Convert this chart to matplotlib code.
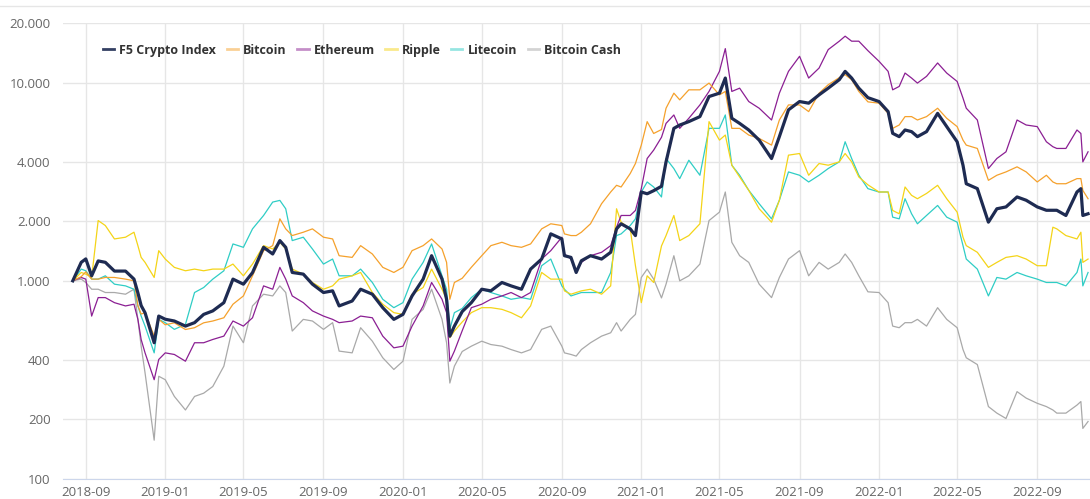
import pandas as pd
import matplotlib
matplotlib.use("Agg")
import matplotlib.pyplot as plt
import matplotlib.dates as mdates
from matplotlib.lines import Line2D

# dates of the read-off points (index = 1000 at start)
dates = pd.to_datetime([
    "2018-08-12", "2018-08-25", "2018-09-01", "2018-09-10", "2018-09-20", "2018-10-01", "2018-10-15",
    "2018-11-01", "2018-11-14", "2018-11-20", "2018-11-25", "2018-12-01", "2018-12-15", "2018-12-22",
    "2019-01-01", "2019-01-15", "2019-02-01", "2019-02-15", "2019-03-01", "2019-03-15", "2019-04-01",
    "2019-04-15", "2019-05-01", "2019-05-15", "2019-06-01", "2019-06-15", "2019-06-26", "2019-07-05",
    "2019-07-15", "2019-08-01", "2019-08-15", "2019-09-01", "2019-09-15", "2019-09-25", "2019-10-15",
    "2019-10-28", "2019-11-15", "2019-12-01", "2019-12-18", "2020-01-01", "2020-01-15", "2020-02-01",
    "2020-02-14", "2020-03-01", "2020-03-08", "2020-03-13", "2020-03-20", "2020-04-01", "2020-04-15",
    "2020-05-01", "2020-05-15", "2020-06-01", "2020-06-15", "2020-07-01", "2020-07-15", "2020-08-01",
    "2020-08-15", "2020-09-01", "2020-09-05", "2020-09-15", "2020-09-23", "2020-10-01", "2020-10-15",
    "2020-11-01", "2020-11-15", "2020-11-24", "2020-12-01", "2020-12-15", "2020-12-23", "2021-01-01",
    "2021-01-10", "2021-01-20", "2021-02-01", "2021-02-08", "2021-02-20", "2021-03-01", "2021-03-15",
    "2021-04-01", "2021-04-15", "2021-05-01", "2021-05-10", "2021-05-20", "2021-06-01", "2021-06-15",
    "2021-07-01", "2021-07-20", "2021-08-01", "2021-08-15", "2021-09-01", "2021-09-15", "2021-10-01",
    "2021-10-15", "2021-11-01", "2021-11-10", "2021-11-20", "2021-12-01", "2021-12-15", "2022-01-01",
    "2022-01-15", "2022-01-22", "2022-02-01", "2022-02-10", "2022-02-20", "2022-03-01", "2022-03-15",
    "2022-04-01", "2022-04-15", "2022-05-01", "2022-05-10", "2022-05-15", "2022-06-01", "2022-06-18",
    "2022-07-01", "2022-07-15", "2022-08-01", "2022-08-15", "2022-09-01", "2022-09-15", "2022-09-25",
    "2022-10-01", "2022-10-15", "2022-11-01", "2022-11-07", "2022-11-10", "2022-11-18",
])

f5_index = [
    1000, 1240, 1290, 1060, 1260, 1240, 1120, 1120, 1020, 870, 750, 690, 487, 664, 640, 627, 591, 615,
    677, 705, 776, 1020, 962, 1100, 1476, 1366, 1596, 1476, 1102, 1081, 962, 873, 890, 747, 791, 907,
    856, 732, 639, 677, 839, 1020, 1339, 1020, 807, 526, 591, 700, 776, 907, 890, 981, 943, 907, 1146,
    1288, 1726, 1627, 1339, 1313, 1102, 1263, 1339, 1288, 1393, 1829, 1940, 1829, 1692, 2807, 2750,
    2850, 3000, 3984, 5880, 6110, 6360, 6740, 8510, 8850, 10550, 6610, 6230, 5770, 5130, 4140, 5340,
    7290, 8030, 7880, 8680, 9380, 10350, 11400, 10550, 9380, 8400, 8030, 7145, 5550, 5340, 5770, 5660,
    5340, 5660, 7000, 6000, 5030, 3830, 3090, 2920, 1977, 2310, 2360, 2650, 2550, 2360, 2270, 2270,
    2270, 2137, 2807, 2918, 2137, 2180,
]
bitcoin = [
    1000, 1050, 1110, 1020, 1020, 1040, 1040, 1020, 1000, 750, 680, 690, 526, 640, 600, 614, 568, 580,
    614, 627, 651, 762, 839, 1060, 1420, 1505, 2055, 1829, 1692, 1759, 1829, 1660, 1627, 1339, 1313,
    1505, 1366, 1170, 1102, 1170, 1420, 1505, 1627, 1448, 1239, 807, 981, 1030, 1170, 1339, 1505, 1565,
    1505, 1476, 1535, 1829, 1940, 1901, 1725, 1692, 1692, 1759, 1940, 2450, 2807, 3034, 2975, 3480,
    3908, 4841, 6358, 5540, 5800, 7430, 8850, 8190, 9200, 9200, 9950, 8680, 9030, 5880, 5880, 5440,
    5230, 4840, 6480, 7720, 7720, 7145, 8850, 9760, 10600, 10970, 10350, 9030, 8000, 7880, 7000, 5880,
    6114, 6740, 6740, 6480, 6740, 7430, 6610, 6000, 5130, 4840, 4656, 3215, 3410, 3545, 3760, 3545,
    3154, 3410, 3154, 3090, 3090, 3279, 3279, 2860, 2596,
]
ethereum = [
    1000, 1040, 1020, 664, 823, 823, 776, 747, 762, 639, 506, 433, 317, 401, 433, 425, 393, 487, 487,
    506, 526, 627, 591, 651, 943, 907, 1169, 1020, 839, 776, 705, 664, 639, 615, 627, 664, 651, 526,
    459, 468, 591, 747, 981, 807, 691, 393, 442, 560, 732, 762, 807, 839, 873, 823, 873, 1288, 1420,
    1660, 1366, 1288, 1102, 1239, 1339, 1393, 1505, 1865, 2137, 2137, 2265, 2918, 4143, 4567, 5300,
    6230, 6870, 5880, 6610, 7720, 9030, 11400, 14850, 9030, 9380, 8030, 7430, 6480, 8850, 11400, 13580,
    10550, 11850, 14680, 16190, 17160, 16190, 16190, 14500, 12820, 11400, 9200, 9570, 11180, 10550,
    9950, 10760, 12570, 11180, 10140, 8350, 7430, 6480, 3686, 4143, 4478, 6480, 6114, 6000, 5033, 4750,
    4656, 4656, 5770, 5540, 3984, 4478,
]
ripple = [
    1000, 1102, 1081, 1040, 2014, 1901, 1627, 1660, 1759, 1505, 1313, 1239, 1040, 1420, 1288, 1169,
    1124, 1146, 1124, 1146, 1146, 1215, 1060, 1215, 1505, 1448, 1565, 1448, 1146, 1081, 981, 907, 943,
    1020, 1060, 1102, 873, 762, 691, 677, 856, 925, 1146, 907, 807, 516, 558, 620, 691, 732, 732, 718,
    691, 651, 747, 1102, 1020, 1020, 890, 856, 873, 890, 907, 856, 943, 2310, 1977, 1829, 1192, 776,
    1060, 981, 1500, 1692, 2137, 1596, 1692, 1940, 6358, 5130, 5440, 3832, 3343, 2862, 2310, 1977,
    2550, 4307, 4390, 3410, 3908, 3832, 3984, 4390, 3984, 3343, 3050, 2807, 2807, 2265, 2180, 2976,
    2700, 2596, 2760, 3034, 2596, 2222, 1660, 1505, 1393, 1169, 1239, 1313, 1339, 1288, 1192, 1192,
    1865, 1829, 1692, 1627, 1759, 1239, 1288,
]
litecoin = [
    1000, 1146, 1124, 1020, 1020, 1060, 962, 943, 907, 747, 664, 591, 433, 639, 615, 569, 603, 873, 925,
    1020, 1124, 1535, 1476, 1829, 2137, 2497, 2546, 2310, 1596, 1660, 1448, 1215, 1288, 1060, 1060,
    1146, 981, 807, 732, 776, 1020, 1239, 1535, 1060, 907, 569, 691, 725, 823, 907, 873, 839, 807, 823,
    807, 1192, 1288, 943, 907, 839, 856, 873, 873, 873, 1102, 1692, 1725, 1901, 2055, 2807, 3154, 2975,
    2650, 4143, 3686, 3279, 4060, 3410, 5882, 5882, 6872, 3832, 3410, 2862, 2450, 2055, 2550, 3545,
    3410, 3154, 3410, 3686, 3984, 5033, 4143, 3410, 2918, 2807, 2807, 2096, 2055, 2596, 2180, 1940,
    2137, 2401, 2096, 1977, 1505, 1288, 1146, 839, 1040, 1020, 1102, 1060, 1020, 981, 981, 981, 943,
    1102, 1288, 943, 1102,
]
bitcoin_cash = [
    1000, 1020, 981, 907, 907, 873, 873, 856, 907, 639, 468, 343, 157, 330, 317, 261, 223, 261, 271,
    293, 371, 591, 487, 747, 856, 839, 943, 873, 558, 639, 627, 569, 615, 442, 433, 580, 496, 409, 357,
    393, 639, 718, 907, 639, 487, 305, 371, 440, 468, 496, 477, 468, 450, 433, 450, 569, 591, 468, 433,
    425, 417, 450, 487, 526, 547, 615, 558, 639, 677, 1040, 1146, 1020, 820, 962, 1339, 1000, 1060,
    1215, 2014, 2222, 2807, 1565, 1339, 1239, 962, 823, 1040, 1288, 1420, 1060, 1239, 1146, 1239, 1366,
    1239, 1060, 880, 873, 776, 591, 580, 615, 615, 639, 591, 732, 639, 580, 450, 409, 378, 232, 215,
    202, 276, 256, 241, 232, 223, 215, 215, 236, 246, 180, 195,
]

series_names = ["F5 Crypto Index", "Bitcoin", "Ethereum", "Ripple", "Litecoin", "Bitcoin Cash"]
y_ticks = [100, 200, 400, 1000, 2000, 4000, 10000, 20000]
y_labels = ["100", "200", "400", "1.000", "2.000", "4.000", "10.000", "20.000"]

colors = ["#1e2b52", "#f5a12c", "#8b1f93", "#f4d418", "#2fcdc5", "#a9a9a9"]
values = [f5_index, bitcoin, ethereum, ripple, litecoin, bitcoin_cash]

fig = plt.figure(figsize=(10.9, 4.99), dpi=100)
ax = fig.add_axes([63 / 1090, 20 / 499, 1027 / 1090, 456 / 499])

# thin coin lines first (Bitcoin Cash at the bottom), index on top
for i in range(5, -1, -1):
    lw = 2.3 if i == 0 else 0.9
    ax.plot(dates, values[i], color=colors[i], lw=lw, zorder=10 if i == 0 else 3 + (6 - i),
            solid_joinstyle="round")

ax.set_yscale("log")
ax.set_ylim(100, 20000)
ax.set_xlim(pd.Timestamp("2018-07-28"), pd.Timestamp("2022-11-21"))
ax.yaxis.set_major_locator(matplotlib.ticker.FixedLocator(y_ticks))
ax.yaxis.set_major_formatter(matplotlib.ticker.FixedFormatter(y_labels))
ax.yaxis.set_minor_locator(matplotlib.ticker.NullLocator())
ax.xaxis.set_major_locator(mdates.MonthLocator(bymonth=[1, 5, 9]))
ax.xaxis.set_major_formatter(mdates.DateFormatter("%Y-%m"))

ax.grid(True, color="#e6e6e6", lw=1)
ax.set_axisbelow(True)
for s in ["top", "right", "left"]:
    ax.spines[s].set_visible(False)
ax.spines["bottom"].set_color("#ccd6eb")
ax.tick_params(length=0, labelcolor="#666666", labelsize=9.5)
ax.tick_params(axis="y", pad=9)
ax.tick_params(axis="x", pad=5)
for lab in ax.get_xticklabels() + ax.get_yticklabels():
    lab.set_fontfamily("Open Sans")

leg_h = [Line2D([0], [0], color=c, lw=2, alpha=0.9 if k == 0 else 0.5)
         for k, c in enumerate(colors)]
leg = ax.legend(leg_h, series_names, loc="center left", bbox_to_anchor=(0.033, 0.94),
                ncol=6, frameon=False, handlelength=0.9, handletextpad=0.4,
                columnspacing=0.85, borderpad=0,
                prop={"family": "Open Sans", "weight": "bold", "size": 9.0})
for t in leg.get_texts():
    t.set_color("#333333")

fig.add_artist(Line2D([0, 1], [1 - 6 / 499] * 2, color="#e6e6e6", lw=1))

fig.savefig("out.png", dpi=100)
